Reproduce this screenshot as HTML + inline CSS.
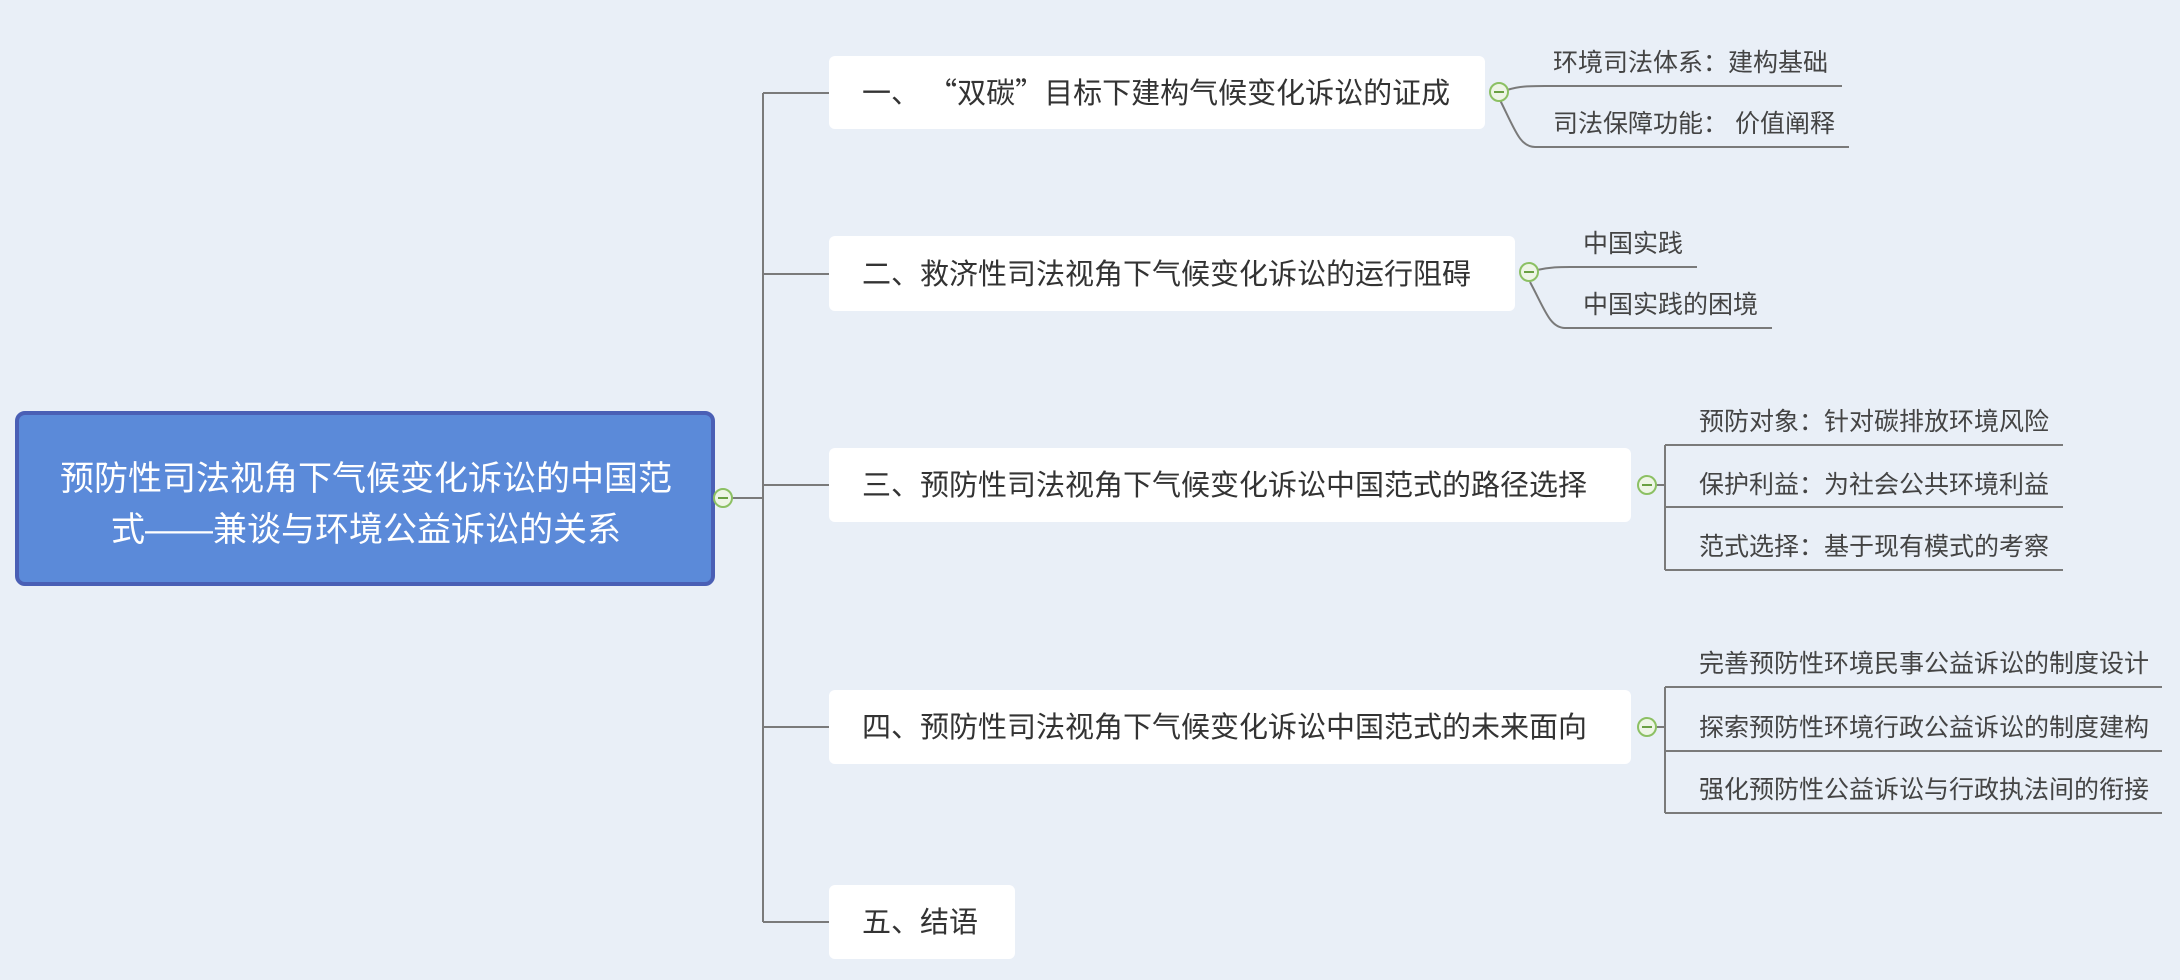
<!DOCTYPE html>
<html><head><meta charset="utf-8"><style>
html,body{margin:0;padding:0;background:#e9eff7;}
svg{display:block;}
text{font-family:"Liberation Sans","Noto Sans CJK SC",sans-serif;}
.cjk{font-family:"Noto Sans CJK SC",sans-serif;}
</style></head><body>
<svg width="2180" height="980" viewBox="0 0 2180 980" xmlns="http://www.w3.org/2000/svg">
<rect width="2180" height="980" fill="#e9eff7"/>
<g fill="none" stroke="#7a7a7a" stroke-width="2">
<line x1="731" y1="498" x2="763" y2="498"/>
<line x1="763" y1="93" x2="763" y2="922"/>
<line x1="763" y1="93" x2="829" y2="93"/>
<line x1="763" y1="274" x2="829" y2="274"/>
<line x1="763" y1="485" x2="829" y2="485"/>
<line x1="763" y1="727" x2="829" y2="727"/>
<line x1="763" y1="922" x2="829" y2="922"/>
<path d="M1507 90 C1520 86 1530 86 1545 86 L1842 86"/>
<path d="M1500 100 C1515 130 1520 147 1535 147 L1849 147"/>
<path d="M1537 270 C1550 267 1560 267 1570 267 L1697 267"/>
<path d="M1530 282 C1545 310 1550 328 1565 328 L1772 328"/>
<line x1="1655" y1="485" x2="1665" y2="485"/>
<line x1="1665" y1="445" x2="1665" y2="570"/>
<line x1="1665" y1="445" x2="2063" y2="445"/>
<line x1="1665" y1="507" x2="2063" y2="507"/>
<line x1="1665" y1="570" x2="2063" y2="570"/>
<line x1="1655" y1="727" x2="1665" y2="727"/>
<line x1="1665" y1="687" x2="1665" y2="813"/>
<line x1="1665" y1="687" x2="2162" y2="687"/>
<line x1="1665" y1="751" x2="2162" y2="751"/>
<line x1="1665" y1="813" x2="2162" y2="813"/>
</g>
<rect x="17" y="413" width="696" height="171" rx="8" fill="#5b8ad9" stroke="#4a5fb5" stroke-width="4"/>
<text x="366" y="490" font-size="34" fill="#fff" text-anchor="middle">预防性司法视角下气候变化诉讼的中国范</text>
<text x="366" y="541" font-size="34" fill="#fff" text-anchor="middle">式——兼谈与环境公益诉讼的关系</text>
<g fill="#ffffff">
<rect x="829" y="56" width="656" height="73" rx="6"/>
<rect x="829" y="236" width="686" height="75" rx="6"/>
<rect x="829" y="448" width="802" height="74" rx="6"/>
<rect x="829" y="690" width="802" height="74" rx="6"/>
<rect x="829" y="885" width="186" height="74" rx="6"/>
</g>
<g font-size="29" fill="#333">
<text x="862" y="103">一、 <tspan class="cjk">“</tspan>双碳<tspan class="cjk">”</tspan>目标下建构气候变化诉讼的证成</text>
<text x="862" y="284">二、救济性司法视角下气候变化诉讼的运行阻碍</text>
<text x="862" y="495">三、预防性司法视角下气候变化诉讼中国范式的路径选择</text>
<text x="862" y="737">四、预防性司法视角下气候变化诉讼中国范式的未来面向</text>
<text x="862" y="932">五、结语</text>
</g>
<g font-size="25" fill="#444">
<text x="1553" y="71">环境司法体系：建构基础</text>
<text x="1553" y="132">司法保障功能： 价值阐释</text>
<text x="1583" y="252">中国实践</text>
<text x="1583" y="313">中国实践的困境</text>
<text x="1699" y="430">预防对象：针对碳排放环境风险</text>
<text x="1699" y="493">保护利益：为社会公共环境利益</text>
<text x="1699" y="555">范式选择：基于现有模式的考察</text>
<text x="1699" y="672">完善预防性环境民事公益诉讼的制度设计</text>
<text x="1699" y="736">探索预防性环境行政公益诉讼的制度建构</text>
<text x="1699" y="798">强化预防性公益诉讼与行政执法间的衔接</text>
</g>
<g fill="#eef5e6" stroke="#8cc063" stroke-width="2">
<circle cx="723" cy="498" r="9"/>
<circle cx="1499" cy="92" r="9"/>
<circle cx="1529" cy="272" r="9"/>
<circle cx="1647" cy="485" r="9"/>
<circle cx="1647" cy="727" r="9"/>
</g>
<g stroke="#6aa042" stroke-width="2">
<line x1="718" y1="498" x2="728" y2="498"/>
<line x1="1494" y1="92" x2="1504" y2="92"/>
<line x1="1524" y1="272" x2="1534" y2="272"/>
<line x1="1642" y1="485" x2="1652" y2="485"/>
<line x1="1642" y1="727" x2="1652" y2="727"/>
</g>
</svg>
</body></html>
